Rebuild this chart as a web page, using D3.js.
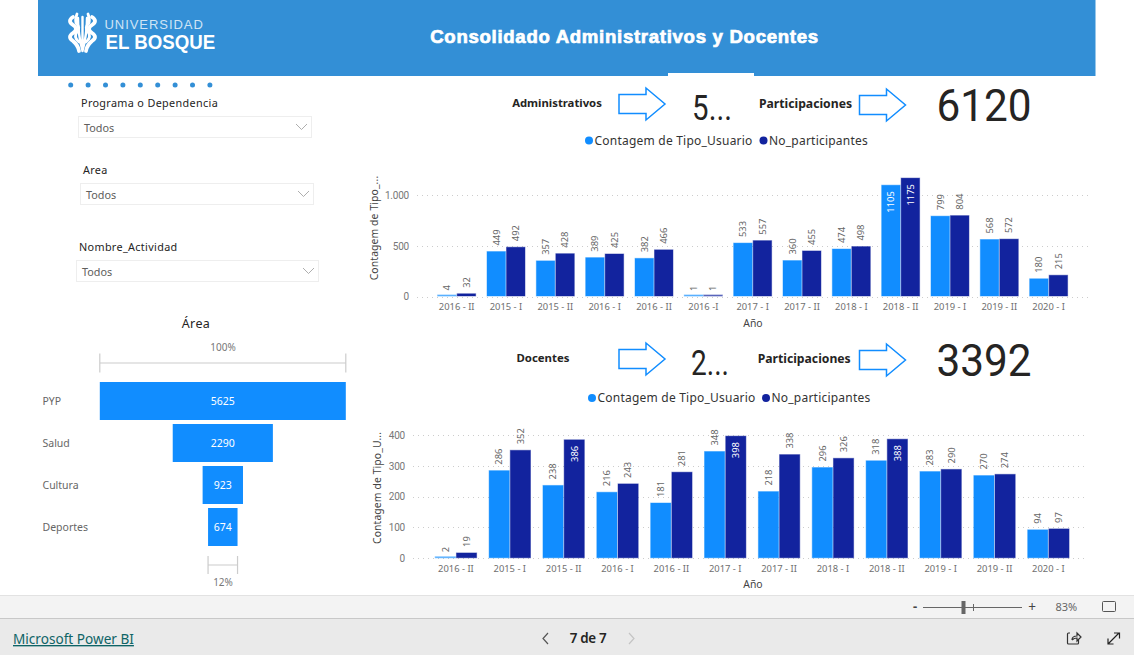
<!DOCTYPE html>
<html><head><meta charset="utf-8">
<script src="https://cdnjs.cloudflare.com/ajax/libs/d3/7.8.5/d3.min.js"></script>
<style>html,body{margin:0;padding:0;background:#fff;overflow:hidden}svg{display:block}text{font-family:"Noto Sans",sans-serif}</style>
</head><body><svg id="c" width="1134" height="655"></svg>
<script>
// ---- data ----
const seriesNames = ["Contagem de Tipo_Usuario", "No_participantes"];
const adminCats = ["2016 - II","2015 - I","2015 - II","2016 - I","2016 - II","2016 -I","2017 - I","2017 - II","2018 - I","2018 - II","2019 - I","2019 - II","2020 - I"];
const adminUsers = [4,449,357,389,382,1,533,360,474,1105,799,568,180];
const adminParts = [32,492,428,425,466,1,557,455,498,1175,804,572,215];
const adminTicks = [0,500,1000];
const docCats = ["2016 - II","2015 - I","2015 - II","2016 - I","2016 - II","2017 - I","2017 - II","2018 - I","2018 - II","2019 - I","2019 - II","2020 - I"];
const docUsers = [2,286,238,216,181,348,218,296,318,283,270,94];
const docParts = [19,352,386,243,281,398,338,326,388,290,274,97];
const docTicks = [0,100,200,300,400];
const funnelCats = ["PYP","Salud","Cultura","Deportes"];
const funnelVals = [5625,2290,923,674];
const slicerTitles = ["Programa o Dependencia","Area","Nombre_Actividad"];
const BLUE="#118DFF", NAVY="#12239E";

const svg=d3.select("#c");
function txt(x,y,s,o={}){const t=svg.append("text").attr("x",x).attr("y",y).text(s)
  .attr("font-size",o.size||12).attr("fill",o.fill||"#333").attr("text-anchor",o.anchor||"start");
  if(o.weight)t.attr("font-weight",o.weight); if(o.family)t.style("font-family",o.family);
  if(o.ls)t.attr("letter-spacing",o.ls); return t;}
// text squeezed horizontally around its anchor x
function squeezed(x,y,s,sx,o){return txt(0,0,s,o).attr("transform",`translate(${x},${y}) scale(${sx},1)`);}

// ---- page chrome ----
svg.append("rect").attr("x",38).attr("y",0).attr("width",1057.5).attr("height",76).attr("fill","#338FD6");
svg.append("rect").attr("x",668).attr("y",73).attr("width",86).attr("height",3).attr("fill","#fff");
txt(624.5,43,"Consolidado Administrativos y Docentes",{size:18.6,weight:700,fill:"#fff",anchor:"middle",family:"'Liberation Sans',sans-serif",ls:.7})
  .attr("stroke","#fff").attr("stroke-width",.7);
// logo
const logo=svg.append("g").attr("fill","none").attr("stroke","#fff").attr("stroke-linecap","round");
[[73,1],[92,-1]].forEach(([cx,d])=>{
  logo.append("path").attr("stroke-width",3.8).attr("d",`M${cx} 17 q${-6*d} 4 0 8 q${6*d} 4 0 8 q${-6*d} 4 0 8 q${5*d} 4 ${6*d} 10`);
  logo.append("path").attr("stroke-width",2.8).attr("d",`M${cx+4*d} 14 q${-2*d} 5 ${-1*d} 9 q${5*d} 5 ${1*d} 9 q${-4*d} 5 ${2*d} 10`);
});
logo.append("path").attr("stroke-width",2.4).attr("d","M82.5 17V51M78 18q0 16 4.5 33M87 18q0 16 -4.5 33");
txt(104.5,28.5,"UNIVERSIDAD",{size:13,fill:"#cfe4f5",ls:.95,family:"'Liberation Sans',sans-serif"});
squeezed(105.5,49,"EL BOSQUE",.89,{size:21,fill:"#fff",weight:700,family:"'Liberation Sans',sans-serif"});
d3.range(9).forEach(i=>svg.append("circle").attr("cx",70.7+i*17.4).attr("cy",85).attr("r",2.5).attr("fill","#338FD6"));

// ---- slicers ----
[[81,107,78,117,233],[83,174,80,184,233],[79,251,76,261,242]].forEach((b,i)=>{
  txt(b[0],b[1],slicerTitles[i],{size:10.8,fill:"#252423",ls:.35});
  svg.append("rect").attr("x",b[2]+.5).attr("y",b[3]-.5).attr("width",b[4]).attr("height",21).attr("fill","#fff").attr("stroke","#eee");
  txt(b[2]+6,b[3]+15,"Todos",{size:10.8,fill:"#605E5C"});
  const ax=b[2]+b[4]-11;
  svg.append("path").attr("d",`M${ax-4} ${b[3]+7}l5.5 5.5l5.5 -5.5`).attr("fill","none").attr("stroke","#999").attr("stroke-width",.8);
});

// ---- funnel ----
const fx=d3.scaleLinear().domain([0,funnelVals[0]]).range([0,246]);
const fy=d3.scaleBand().domain(funnelCats).range([380,548]).paddingInner(4/42).paddingOuter(2/42);
const fcx=222.8;
txt(196,328,"Área",{size:12.5,fill:"#252423",anchor:"middle",ls:.4});
txt(223,351,"100%",{size:10,fill:"#777",anchor:"middle"});
txt(223,586,"12%",{size:10,fill:"#777",anchor:"middle"});
function bracket(w,y,h){
  svg.append("path").attr("d",`M${fcx-w/2} ${y}H${fcx+w/2}M${fcx-w/2} ${y-h}V${y+h}M${fcx+w/2} ${y-h}V${y+h}`)
    .attr("fill","none").attr("stroke","#ccc").attr("stroke-width",1.2);
}
bracket(fx(funnelVals[0]),363,9.5);
bracket(fx(funnelVals[3]),565,9);
svg.append("g").selectAll("rect").data(funnelVals).join("rect")
  .attr("x",d=>fcx-fx(d)/2).attr("width",d=>fx(d))
  .attr("y",(d,i)=>fy(funnelCats[i])).attr("height",fy.bandwidth()).attr("fill",BLUE);
funnelVals.forEach((d,i)=>{
  const y=fy(funnelCats[i])+fy.bandwidth()/2+4;
  txt(fcx,y,d,{size:10.5,fill:"#fff",anchor:"middle"});
  txt(42.5,y,funnelCats[i],{size:10.5,fill:"#666"});
});

// ---- column charts ----
function columns(cfg){
  const idx=cfg.cats.map((c,i)=>i);
  const x=d3.scaleBand().domain(idx).range(cfg.xr).paddingInner(cfg.pad).paddingOuter(cfg.pad/2);
  const x1=d3.scaleBand().domain([0,1]).range([0,x.bandwidth()]);
  const y=d3.scaleLinear().domain([0,cfg.ticks[cfg.ticks.length-1]]).range(cfg.yr);
  const g=svg.append("g");
  g.append("g").selectAll("line").data(cfg.ticks).join("line")
    .attr("x1",cfg.gx[0]).attr("x2",cfg.gx[1]).attr("y1",d=>Math.round(y(d))+.5).attr("y2",d=>Math.round(y(d))+.5)
    .attr("stroke","#ccc").attr("stroke-dasharray","1 4");
  const ya=g.append("g").attr("transform",`translate(${cfg.gx[0]-8},0)`)
    .call(d3.axisLeft(y).tickValues(cfg.ticks).tickSize(0).tickPadding(0).tickFormat(d=>d3.format(",")(d).replace(",",".")));
  ya.select(".domain").remove();
  ya.selectAll("text").attr("font-size",10).attr("fill","#777").attr("letter-spacing",-.2).style("font-family","Roboto,sans-serif");
  const xa=g.append("g").attr("transform",`translate(0,${cfg.yr[0]+4})`)
    .call(d3.axisBottom(x).tickSize(0).tickFormat(i=>cfg.cats[i]));
  xa.select(".domain").remove();
  xa.selectAll("text").attr("font-size",9.4).attr("fill","#707070").style("font-family","'Noto Sans',sans-serif");
  [cfg.a,cfg.b].forEach((vals,s)=>{
    const col=s?NAVY:BLUE;
    const tiny=d=>(y(0)-y(d))<2;
    g.append("g").selectAll("rect").data(vals).join("rect")
      .attr("x",(d,i)=>x(i)+x1(s)+.5).attr("width",x1.bandwidth()-1)
      .attr("y",d=>tiny(d)?y(0)-1.5:y(d)+.5).attr("height",d=>tiny(d)?1:y(0)-y(d)-1).attr("fill",col)
      .attr("fill-opacity",d=>tiny(d)?.45:1)
      .attr("stroke",col).attr("stroke-opacity",.45);
    g.append("g").selectAll("text").data(vals).join("text")
      .text(d=>d).attr("font-size",9.4)
      .attr("fill",d=>cfg.inside.includes(d)?"#fff":"#666")
      .attr("text-anchor",d=>cfg.inside.includes(d)?"end":"start")
      .attr("transform",(d,i)=>{
        const px=x(i)+x1(s)+x1.bandwidth()/2+3.3;
        const py=cfg.inside.includes(d)?y(d)+6.5:y(d)-5.5;
        return `translate(${px},${py}) rotate(-90)`;
      });
  });
  txt(cfg.yTx,cfg.yTc,cfg.yTitle,{size:10.4,fill:"#444",anchor:"middle",ls:.1})
    .attr("transform",`rotate(-90 ${cfg.yTx} ${cfg.yTc})`);
  txt(753,cfg.yr[0]+cfg.xTy,"Año",{size:10.4,fill:"#444",anchor:"middle"});
}
columns({cats:adminCats,a:adminUsers,b:adminParts,ticks:adminTicks,xr:[432,1073.3],pad:.21,yr:[296.5,195.3],gx:[417,1088],
  inside:[1105,1175],yTx:378,yTc:228,yTitle:"Contagem de Tipo_...",xTy:30});
columns({cats:docCats,a:docUsers,b:docParts,ticks:docTicks,xr:[429,1075.3],pad:.213,yr:[558.3,435],gx:[413,1088],
  inside:[386,398,388],yTx:381,yTc:488,yTitle:"Contagem de Tipo_U...",xTy:29.5});

// ---- KPI rows ----
function arrow(x,y){
  svg.append("path").attr("d",`M${x} ${y-9.5}H${x+27}V${y-16}L${x+46} ${y}L${x+27} ${y+16}V${y+9.5}H${x}Z`)
    .attr("fill","#fff").attr("stroke",BLUE).attr("stroke-width",1.5);
}
function kpi(o){
  txt(o.lx,o.ly,o.label,{size:o.lsize,weight:700,fill:"#252423",anchor:"middle"});
  arrow(619,o.ay);
  squeezed(o.tx,o.ty,o.trunc,o.tsx,{size:35,fill:"#252423",anchor:"middle",family:"Roboto,sans-serif"});
  txt(o.px,o.ly+1,"Participaciones",{size:12.2,weight:700,fill:"#252423",anchor:"middle"});
  arrow(859.5,o.ay+1);
  squeezed(984,o.vy,o.value,.94,{size:45,fill:"#252423",anchor:"middle",family:"Roboto,sans-serif"});
  svg.append("circle").attr("cx",o.lg1).attr("cy",o.lgy).attr("r",4).attr("fill",BLUE);
  txt(o.lg1+5.5,o.lgy+4,seriesNames[0],{size:12,fill:"#333",ls:.22});
  svg.append("circle").attr("cx",o.lg2).attr("cy",o.lgy).attr("r",4).attr("fill",NAVY);
  txt(o.lg2+5.5,o.lgy+4,seriesNames[1],{size:12,fill:"#333",ls:.22});
}
kpi({label:"Administrativos",lsize:11.3,lx:557,ly:106.5,ay:104,trunc:"5...",tx:712,tsx:.84,ty:120,px:805.5,vy:121.3,value:"6120",lg1:589,lg2:763.5,lgy:140.5});
kpi({label:"Docentes",lsize:11.4,lx:543,ly:361.5,ay:359,trunc:"2...",tx:710,tsx:.8,ty:375,px:804.2,vy:376,value:"3392",lg1:592,lg2:766,lgy:398});

// ---- footer ----
svg.append("rect").attr("x",0).attr("y",595).attr("width",1134).attr("height",24).attr("fill","#F3F3F3");
svg.append("line").attr("x1",0).attr("x2",1134).attr("y1",595.5).attr("y2",595.5).attr("stroke","#e2e2e2");
svg.append("rect").attr("x",0).attr("y",618).attr("width",1134).attr("height",37).attr("fill","#EAEAEA");
svg.append("line").attr("x1",0).attr("x2",1134).attr("y1",618.5).attr("y2",618.5).attr("stroke","#c8c8c8");
txt(13,644,"Microsoft Power BI",{size:13.6,fill:"#0E6466"}).attr("text-decoration","underline");
txt(588,643,"7 de 7",{size:13.4,weight:600,fill:"#252423",anchor:"middle",ls:-.3});
const nav=(d,c)=>svg.append("path").attr("d",d).attr("fill","none").attr("stroke",c).attr("stroke-width",1.2);
nav("M548 633l-5 5.5l5 5.5","#555");
nav("M629 633l5 5.5l-5 5.5","#c4c4c4");
nav("M1070 633h-1.5a1 1 0 0 0 -1 1v9a1 1 0 0 0 1 1h9a1 1 0 0 0 1 -1v-3M1072 640q0 -4 5 -4v-3l4 4l-4 4v-3q-3 0 -5 2","#333");
nav("M1108 644l11 -11M1114 633h5.5v5.5M1108 638.5v5.5h5.5","#222");
// zoom bar
txt(915,611,"-",{size:13,fill:"#444",anchor:"middle",weight:700});
svg.append("line").attr("x1",923).attr("x2",1022).attr("y1",607.5).attr("y2",607.5).attr("stroke","#666");
svg.append("line").attr("x1",973.5).attr("x2",973.5).attr("y1",604).attr("y2",611).attr("stroke","#666");
svg.append("rect").attr("x",961.5).attr("y",601).attr("width",4).attr("height",13).attr("fill","#666");
txt(1032,612,"+",{size:13.5,fill:"#444",anchor:"middle"});
txt(1055.5,611,"83%",{size:11,fill:"#666"});
svg.append("rect").attr("x",1102.5).attr("y",601.5).attr("width",13).attr("height",10).attr("rx",1).attr("fill","none").attr("stroke","#555");
</script></body></html>
